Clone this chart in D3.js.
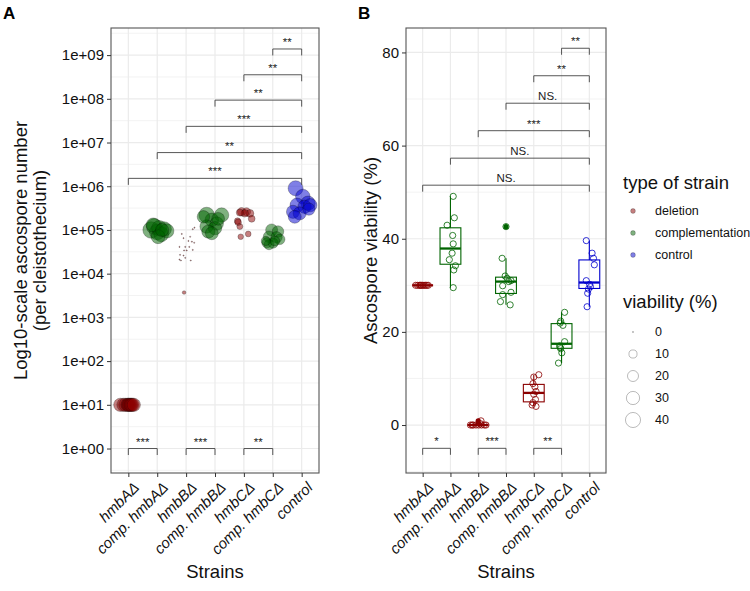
<!DOCTYPE html>
<html><head><meta charset="utf-8">
<script src="https://cdn.jsdelivr.net/npm/d3@7"></script>
<style>
body{margin:0;background:#fff}
text{font-family:"Liberation Sans",Arial,Helvetica,sans-serif}
</style>
</head><body>
<svg id="chart" width="750" height="591"></svg>
<script>
// ---------------- DATA ----------------
const strains = ["hmbAΔ","comp. hmbAΔ","hmbBΔ","comp. hmbBΔ","hmbCΔ","comp. hmbCΔ","control"];
const strainType = ["deletion","complementation","deletion","complementation","deletion","complementation","control"];
const typeNames = ["deletion","complementation","control"];
const typeColors = ["#8B0000","#006400","#0000CD"];

// Panel A: ascospore number per cleistothecium
const ascoHmbA     = [10,10,10,10,10,10,10,10,10,10];
const ascoCompHmbA = [1.0e5,1.2e5,0.9e5,1.1e5,0.8e5,1.05e5,0.95e5,1.3e5,0.7e5,1.0e5];
const ascoHmbB     = [8.1e4,1.04e5,1.13e5,6.5e4,7.0e4,5.6e4,5.4e4,5.1e4,4.1e4,4.1e4,4.1e4,3.4e4,3.4e4,3.5e4,2.7e4,2.6e4,2.1e4,2.3e4,2.0e4,2.0e4,3.7e3];
const ascoCompHmbB = [2.2e5,2.2e5,1.7e5,1.4e5,1.2e5,1.1e5,9.2e4,8.4e4,1.8e5,2.0e5];
const ascoHmbC     = [2.6e5,2.6e5,2.4e5,2.4e5,2.5e5,1.8e5,1.6e5,1.2e5,8.1e4,7.0e4,1.5e5];
const ascoCompHmbC = [1.0e5,9.2e4,7.0e4,6.8e4,6.1e4,5.1e4,5.0e4,4.6e4,5.6e4,5.6e4];
const ascoControl  = [9.0e5,5.8e5,4.1e5,3.7e5,3.4e5,3.7e5,2.6e5,2.4e5,2.0e5,3.0e5];
const ascoCounts = [ascoHmbA,ascoCompHmbA,ascoHmbB,ascoCompHmbB,ascoHmbC,ascoCompHmbC,ascoControl];

// viability (%) attached to each panel-A point (size aesthetic)
const sizeHmbA     = [30,30,30,30,30,30,30,30,30,30];
const sizeCompHmbA = [49.1,44.5,42.9,40.7,38.9,36.9,35.5,34.2,33.3,29.5];
const sizeHmbB     = [0,0,0,0,0,0,0,0,0,0,0,0,0,0,0,0,0,0,0,0,1.2];
const sizeCompHmbB = [42.6,35.8,32.0,31.5,31.0,30.8,29.9,28.5,28.0,26.5];
const sizeHmbC     = [10.8,10.3,8.9,8.2,7.2,6.6,5.5,4.8,4.3,4.0,6.0];
const sizeCompHmbC = [24.2,22.3,21.9,21.4,17.9,17.0,16.7,16.4,15.5,13.3];
const sizeControl  = [39.6,36.9,35.8,34.4,31.0,30.2,29.7,29.2,28.3,25.4];
const ascoSizes = [sizeHmbA,sizeCompHmbA,sizeHmbB,sizeCompHmbB,sizeHmbC,sizeCompHmbC,sizeControl];

// horizontal jitter (fraction of category step)
const jitA = [
  [-0.28,-0.17,-0.10,-0.03,0,0.03,0.07,0.10,0.14,0.19],
  [-0.21,-0.10,0,0.07,0.14,0.24,0.33,-0.14,0.03,0.17],
  [-0.15,0.23,0.29,-0.09,0.14,0.08,0.20,0.28,-0.23,-0.03,0.11,-0.07,0.02,0.23,-0.21,-0.09,-0.23,-0.03,-0.18,0.16,-0.07],
  [-0.29,0.23,-0.11,0.06,-0.29,0,-0.23,-0.11,0.11,-0.40],
  [-0.08,0.09,0.21,0.03,-0.14,0.27,-0.22,-0.14,0.15,-0.11,-0.20],
  [-0.04,0.18,-0.13,0.13,0.24,-0.20,0.01,-0.13,0.07,-0.24],
  [-0.21,0.04,0.22,-0.16,0.10,0.30,-0.30,-0.07,-0.24,0.25]
];

// Panel B: ascospore viability (%)
const viaHmbA     = [30,30,30,30,30,30,30,30,30,30];
const viaCompHmbA = [49.1,44.5,42.9,40.7,38.9,36.9,35.5,34.2,33.3,29.5];
const viaHmbB     = [0,0,0,0,0,0,0,0,0.3,0.9];
const viaCompHmbB = [42.6,35.8,32.0,31.5,31.0,30.8,29.9,28.5,28.0,26.5,25.8];
const viaHmbC     = [10.8,10.3,8.9,8.2,7.2,6.6,5.5,4.8,4.3,4.0];
const viaCompHmbC = [24.2,22.3,21.9,21.4,17.9,17.0,16.7,16.4,15.5,13.3];
const viaControl  = [39.6,36.9,35.8,34.4,31.0,30.2,29.7,29.2,28.3,25.4];
const viaValues = [viaHmbA,viaCompHmbA,viaHmbB,viaCompHmbB,viaHmbC,viaCompHmbC,viaControl];
const jitB = [
  [-0.25,-0.18,-0.11,-0.05,0,0.05,0.10,0.15,0.20,-0.08],
  [0.10,0.14,-0.12,0.08,0.10,0.06,-0.04,0.18,0.12,0.10],
  [-0.28,-0.18,-0.08,0.02,0.12,0.22,0.28,-0.22,0.08,0.10],
  [0,-0.14,-0.03,0.04,0.18,0.10,-0.12,0.18,-0.12,-0.20,0.15],
  [0.18,0,-0.03,0.04,0.08,0,0.06,-0.03,-0.06,0.08],
  [0.11,-0.03,-0.05,0.05,0.11,-0.07,-0.05,-0.03,0.01,-0.11],
  [-0.11,0.10,0.15,0.18,-0.11,0.01,0.04,-0.03,-0.06,-0.08]
];

// significance annotations
const sigCtrlLabelsA = ["***","**","***","**","**","**"];
const sigCtrlLevelsA = [6.18,6.77,7.37,7.97,8.55,9.14];   // log10 units
const sigCompLabelsA = ["***","***","**"];
const sigCompLevelA = 0;                                   // log10 units
const sigCtrlLabelsB = ["NS.","NS.","***","NS.","**","**"];
const sigCtrlLevelsB = [51.5,57.3,63.2,69.1,75.0,80.9];
const sigCompLabelsB = ["*","***","**"];
const sigCompLevelB = -5;

const ticksA = [0,1,2,3,4,5,6,7,8,9];
const ticksB = [0,20,40,60,80];
const sizeBreaks = [0,10,20,30,40];

// ---------------- DRAW ----------------
const svg = d3.select("#chart");
svg.append("rect").attr("width",750).attr("height",591).attr("fill","#fff");
const color = d3.scaleOrdinal().domain(typeNames).range(typeColors);
const GRID = "#EBEBEB";

const A = {x0:111, x1:319, y0:28, y1:473};
const B = {x0:406, x1:606, y0:28, y1:473};

const xA = d3.scalePoint().domain(strains).range([A.x0,A.x1]).padding(0.6);
const yA = d3.scaleLog().domain([Math.pow(10,-0.56), Math.pow(10,9.62)]).range([A.y1,A.y0]);
const xB = d3.scalePoint().domain(strains).range([B.x0,B.x1]).padding(0.6);
const yB = d3.scaleLinear().domain([-10.3, 85.25]).range([B.y1,B.y0]);
const rSize = d3.scaleSqrt().domain([0,49.1]).range([0.6,8.3]);

function panelFrame(P, x, y, majors, minors){
  const g = svg.append("g");
  g.selectAll(".mn").data(minors).join("line")
    .attr("x1",P.x0).attr("x2",P.x1).attr("y1",d=>y(d)).attr("y2",d=>y(d))
    .attr("stroke",GRID).attr("stroke-width",0.6);
  g.selectAll(".mj").data(majors).join("line")
    .attr("x1",P.x0).attr("x2",P.x1).attr("y1",d=>y(d)).attr("y2",d=>y(d))
    .attr("stroke",GRID).attr("stroke-width",1.2);
  g.selectAll(".vx").data(strains).join("line")
    .attr("x1",d=>x(d)).attr("x2",d=>x(d)).attr("y1",P.y0).attr("y2",P.y1)
    .attr("stroke",GRID).attr("stroke-width",1.2);
  return g;
}
function panelBorder(P){
  svg.append("rect").attr("x",P.x0).attr("y",P.y0).attr("width",P.x1-P.x0).attr("height",P.y1-P.y0)
    .attr("fill","none").attr("stroke","#555").attr("stroke-width",1.1);
}
function axes(P, x, y, tickVals, fmt){
  const gy = svg.append("g").attr("transform",`translate(${P.x0},0)`)
    .call(d3.axisLeft(y).tickValues(tickVals).tickFormat(fmt).tickSize(4).tickPadding(3));
  gy.select(".domain").remove();
  gy.selectAll("line").attr("stroke","#333");
  gy.selectAll("text").attr("font-size",15).attr("fill","#111").attr("font-family","Liberation Sans, Arial, sans-serif");
  const gx = svg.append("g").attr("transform",`translate(0,${P.y1})`)
    .call(d3.axisBottom(x).tickSize(4).tickPadding(3));
  gx.select(".domain").remove();
  gx.selectAll("line").attr("stroke","#333");
  gx.selectAll("text")
    .attr("font-size",15).attr("fill","#111").attr("font-style","italic")
    .attr("font-family","Liberation Sans, Arial, sans-serif")
    .attr("text-anchor","end").attr("dy",null).attr("y",null)
    .attr("transform","translate(5,9) rotate(-45)").attr("dy","0.6em");
  svg.append("text").attr("x",(P.x0+P.x1)/2).attr("y",578).attr("text-anchor","middle")
    .attr("font-size",18.5).attr("fill","#111").text("Strains");
}
function brackets(x, y, pairs, labels, levels){
  const g = svg.append("g");
  pairs.forEach((p,i)=>{
    const xa = x(strains[p[0]]), xb = x(strains[p[1]]), yy = y(levels[i]);
    g.append("path").attr("d",`M${xa},${yy+6.5}V${yy}H${xb}V${yy+6.5}`)
      .attr("fill","none").attr("stroke","#444").attr("stroke-width",0.9);
    g.append("text").attr("x",(xa+xb)/2).attr("y",yy-3).attr("text-anchor","middle")
      .attr("font-size",11.5).attr("fill","#222").text(labels[i]);
  });
}
const ctrlPairs = [[0,6],[1,6],[2,6],[3,6],[4,6],[5,6]];
const compPairs = [[0,1],[2,3],[4,5]];

// ---------- Panel A ----------
const minorA = d3.range(-0.5,10,1).map(k=>Math.pow(10,k));
const majorA = ticksA.map(k=>Math.pow(10,k));
panelFrame(A, xA, yA, majorA, minorA);
const stepA = xA.step();
const ptsA = [];
ascoCounts.forEach((arr,i)=>arr.forEach((v,j)=>ptsA.push({s:strains[i], t:strainType[i], v, size:ascoSizes[i][j], jit:jitA[i][j]})));
svg.append("g").selectAll("circle").data(ptsA).join("circle")
  .attr("cx",d=>xA(d.s)+d.jit*stepA).attr("cy",d=>yA(d.v)).attr("r",d=>rSize(d.size))
  .attr("fill",d=>color(d.t)).attr("fill-opacity",0.5)
  .attr("stroke","#000").attr("stroke-opacity",0.5).attr("stroke-width",0.5);
brackets(xA, v=>yA(Math.pow(10,v)), ctrlPairs, sigCtrlLabelsA, sigCtrlLevelsA);
brackets(xA, v=>yA(Math.pow(10,v)), compPairs, sigCompLabelsA, [sigCompLevelA,sigCompLevelA,sigCompLevelA]);
panelBorder(A);
axes(A, xA, yA, majorA, d=>"1e+0"+Math.round(Math.log10(d)));
svg.append("text").attr("transform",`translate(27,${(A.y0+A.y1)/2}) rotate(-90)`).attr("text-anchor","middle")
  .attr("font-size",18.5).attr("fill","#111").text("Log10-scale ascospore number");
svg.append("text").attr("transform",`translate(46,${(A.y0+A.y1)/2}) rotate(-90)`).attr("text-anchor","middle")
  .attr("font-size",18.5).attr("fill","#111").text("(per cleistothecium)");
svg.append("text").attr("x",3).attr("y",19).attr("font-size",17).attr("font-weight","bold").text("A");

// ---------- Panel B ----------
panelFrame(B, xB, yB, ticksB, [-10,10,30,50,70]);
const stepB = xB.step(), boxW = stepB*0.75;
const gB = svg.append("g");
viaValues.forEach((vals,i)=>{
  const s = strains[i], c = color(strainType[i]), cx = xB(s);
  const sorted = vals.slice().sort(d3.ascending);
  const q1 = d3.quantile(sorted,0.25), med = d3.quantile(sorted,0.5), q3 = d3.quantile(sorted,0.75);
  const iqr = q3-q1, lo = q1-1.5*iqr, hi = q3+1.5*iqr;
  const inside = sorted.filter(v=>v>=lo && v<=hi);
  const wLo = d3.min(inside), wHi = d3.max(inside);
  const outl = sorted.filter(v=>v<lo || v>hi);
  gB.append("line").attr("x1",cx).attr("x2",cx).attr("y1",yB(q3)).attr("y2",yB(wHi)).attr("stroke",c).attr("stroke-width",1.1);
  gB.append("line").attr("x1",cx).attr("x2",cx).attr("y1",yB(q1)).attr("y2",yB(wLo)).attr("stroke",c).attr("stroke-width",1.1);
  gB.append("rect").attr("x",cx-boxW/2).attr("width",boxW).attr("y",yB(q3)).attr("height",Math.max(0,yB(q1)-yB(q3)))
    .attr("fill","#fff").attr("fill-opacity",0).attr("stroke",c).attr("stroke-width",1.1);
  gB.append("line").attr("x1",cx-boxW/2).attr("x2",cx+boxW/2).attr("y1",yB(med)).attr("y2",yB(med)).attr("stroke",c).attr("stroke-width",2.3);
  gB.selectAll(null).data(outl).join("circle").attr("cx",cx).attr("cy",d=>yB(d)).attr("r",2.6).attr("fill",c);
  gB.selectAll(null).data(vals.map((v,j)=>({v,j}))).join("circle")
    .attr("cx",d=>cx+jitB[i][d.j]*stepB).attr("cy",d=>yB(d.v)).attr("r",3.1)
    .attr("fill","none").attr("stroke",c).attr("stroke-width",0.8);
});
brackets(xB, yB, ctrlPairs, sigCtrlLabelsB, sigCtrlLevelsB);
brackets(xB, yB, compPairs, sigCompLabelsB, [sigCompLevelB,sigCompLevelB,sigCompLevelB]);
panelBorder(B);
axes(B, xB, yB, ticksB, d3.format("d"));
svg.append("text").attr("transform",`translate(377,${(B.y0+B.y1)/2}) rotate(-90)`).attr("text-anchor","middle")
  .attr("font-size",18.5).attr("fill","#111").text("Ascospore viability (%)");
svg.append("text").attr("x",358).attr("y",19).attr("font-size",17).attr("font-weight","bold").text("B");

// ---------- Legend ----------
const lg = svg.append("g");
const LX = 623, keyX = 633, labX = 655;
lg.append("text").attr("x",LX).attr("y",189).attr("font-size",18.5).attr("fill","#111").text("type of strain");
typeNames.forEach((t,i)=>{
  const yy = 211 + i*22;
  lg.append("circle").attr("cx",keyX).attr("cy",yy).attr("r",2.4).attr("fill",color(t)).attr("fill-opacity",0.5)
    .attr("stroke","#000").attr("stroke-opacity",0.45).attr("stroke-width",0.5);
  lg.append("text").attr("x",labX).attr("y",yy).attr("dy","0.35em").attr("font-size",12.5).attr("fill","#111").text(t);
});
lg.append("text").attr("x",LX).attr("y",308).attr("font-size",18.5).attr("fill","#111").text("viability (%)");
sizeBreaks.forEach((b,i)=>{
  const yy = 332 + i*22;
  lg.append("circle").attr("cx",keyX).attr("cy",yy).attr("r",rSize(b)).attr("fill","none")
    .attr("stroke","#000").attr("stroke-opacity",0.45).attr("stroke-width",0.6);
  lg.append("text").attr("x",labX).attr("y",yy).attr("dy","0.35em").attr("font-size",12.5).attr("fill","#111").text(b);
});
</script>
</body></html>
